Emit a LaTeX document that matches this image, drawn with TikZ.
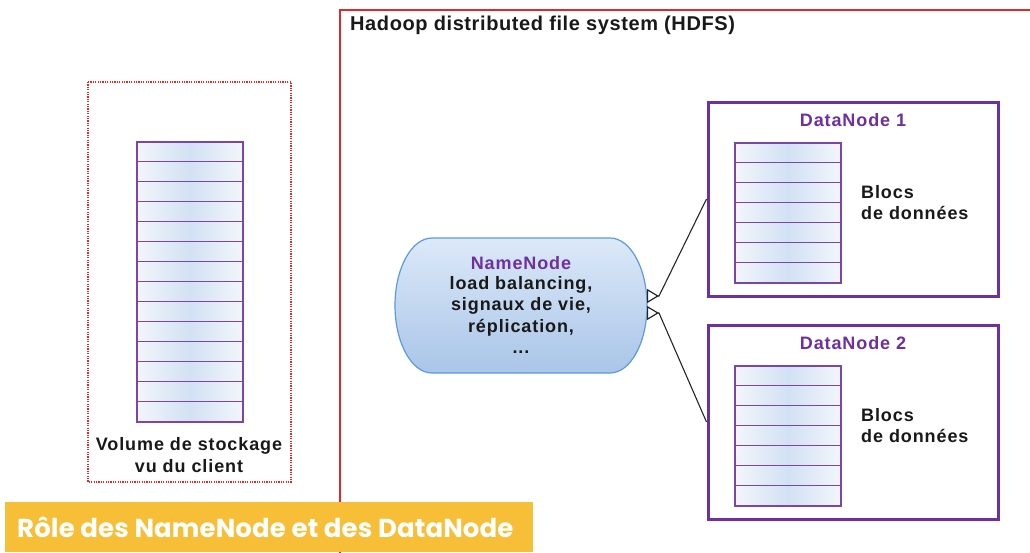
\documentclass[tikz,border=0pt]{standalone}
\usepackage{fontspec}
\setmainfont{Liberation Sans}
\newfontfamily\bannerfont{Poppins}
\usetikzlibrary{arrows.meta,shadings}
\definecolor{hdfsred}{HTML}{E02828}
\definecolor{dnpurple}{HTML}{6F2F9F}
\definecolor{rowpurple}{HTML}{7D45A8}
\definecolor{rowblue}{HTML}{D2E1F4}
\definecolor{rowpale}{HTML}{F2F6FB}
\definecolor{nntop}{HTML}{DCE9F8}
\definecolor{nnbot}{HTML}{A9C5E8}
\definecolor{nnedge}{HTML}{5B9BE0}
\definecolor{bannerbg}{HTML}{F7BE37}
\tikzset{
  txt/.style={font=\fontsize{18}{21.5}\selectfont\bfseries\addfontfeature{LetterSpace=5}, text=black!90, inner sep=0pt},
  ptxt/.style={txt, text=dnpurple},
  blockrow/.style={draw=rowpurple, line width=1.5pt, left color=rowpale, right color=rowpale, middle color=rowblue},
  stackouter/.style={draw=rowpurple, line width=2pt},
  dnbox/.style={draw=dnpurple, line width=3pt, minimum width=290pt, minimum height=194pt, inner sep=0pt},
  conn/.style={draw=black!85, line width=1.1pt, -{Triangle[open,reversed,length=12pt,width=14pt,line width=1.2pt]}},
}
\begin{document}
\begin{tikzpicture}[x=1pt,y=-1pt]
\useasboundingbox (0,0) rectangle (1030,552);
\fill[white] (0,0) rectangle (1030,552);
% HDFS frame
\draw[hdfsred, line width=1.6pt] (340,560) -- (340,10) -- (1040,10);
\node[txt, anchor=west, font=\fontsize{20}{24}\selectfont\bfseries\addfontfeature{LetterSpace=3}] (hdfs) at (350,25) {Hadoop distributed file system (HDFS)};
% client volume
\draw[hdfsred, line width=1.1pt, dash pattern=on 1.2pt off 1.2pt] (88,82) rectangle (291,482);
\foreach \i in {0,...,13}
  \draw[blockrow] (137,{141.5+\i*20}) rectangle ++(106,20);
\draw[stackouter] (137,141.5) rectangle (243,421.5);
\node[txt, align=center] (vol) at (189,455) {Volume de stockage\\vu du client};
% NameNode
\shade[top color=nntop, bottom color=nnbot, draw=nnedge, line width=1.2pt]
  (432,238) -- (610,238) arc[start angle=-90, end angle=90, x radius=37, y radius=67.5]
  -- (432,373) arc[start angle=90, end angle=270, x radius=37, y radius=67.5] -- cycle;
\node[ptxt] (nntitle) at (521,263) {NameNode};
\node[txt, align=center, anchor=north] (nntext) at (521,276) {load balancing,\\signaux de vie,\\réplication,\\...};
\coordinate (nnA) at (647,296);
\coordinate (tipA) at (659,296);
\coordinate (nnB) at (647,313);
\coordinate (tipB) at (659,313);
% DataNode 1
\node[dnbox] (dn1) at (853,199) {};
\node[ptxt] (dn1t) at (853,120) {DataNode 1};
\foreach \i in {0,...,6}
  \draw[blockrow] (735,{142.5+\i*20}) rectangle ++(106,20);
\draw[stackouter] (735,142.5) rectangle (841,282.5);
\node[txt, align=left, anchor=west] (dn1b) at (861,202.5) {Blocs\\de données};
% DataNode 2
\node[dnbox] (dn2) at (853,422) {};
\node[ptxt] (dn2t) at (853,343) {DataNode 2};
\foreach \i in {0,...,6}
  \draw[blockrow] (735,{365.5+\i*20}) rectangle ++(106,20);
\draw[stackouter] (735,365.5) rectangle (841,505.5);
\node[txt, align=left, anchor=west] (dn2b) at (861,425.5) {Blocs\\de données};
% connectors
\draw[conn] (dn1.west) -- (tipA) -- (nnA);
\draw[conn] (dn2.west) -- (tipB) -- (nnB);
% banner
\fill[bannerbg] (5,502) rectangle (533,552);
\node[anchor=west, inner sep=0pt, text=white, font=\bannerfont\bfseries\fontsize{26}{30}\selectfont\addfontfeature{LetterSpace=0.5}] (banner) at (17,527) {Rôle des NameNode et des DataNode};
\end{tikzpicture}
\end{document}
